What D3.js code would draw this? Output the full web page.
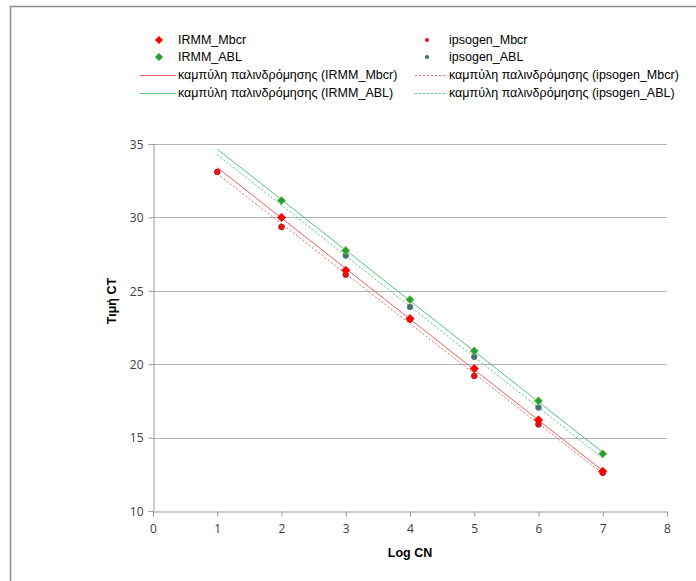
<!DOCTYPE html>
<html lang="en">
<head>
    <meta charset="UTF-8">
    <title>Καμπύλες παλινδρόμησης CT</title>
    <script src="https://d3js.org/d3.v7.min.js"></script>
</head>

<style>
    body {
        margin: 0;
        background: #fff;
    }

    svg {
        display: block;
        font-family: "Liberation Sans", Arial, sans-serif;
    }

    .tick text {
        font-family: "Open Sans", "Liberation Sans", sans-serif;
        font-size: 12px;
        fill: #404040;
    }
</style>

<body>
<div class="chart-container"></div>

<script>
  /** DATA */
  var logCN = [1, 2, 3, 4, 5, 6, 7];
  var irmmMbcr = [null, 30.0, 26.4, 23.1, 19.7, 16.2, 12.7];
  var ipsogenMbcr = [33.1, 29.35, 26.1, 23.05, 19.2, 15.9, 12.6];
  var irmmAbl = [null, 31.15, 27.75, 24.4, 20.9, 17.5, 13.9];
  var ipsogenAbl = [null, null, 27.4, 23.9, 20.5, 17.05, null];

  var xTicks = [0, 1, 2, 3, 4, 5, 6, 7, 8];
  var yTicks = [10, 15, 20, 25, 30, 35];

  var seriesNames = ['IRMM_Mbcr', 'IRMM_ABL', 'ipsogen_Mbcr', 'ipsogen_ABL'];
  var trendPrefix = 'καμπύλη παλινδρόμησης';

  /** series table built from the arrays above (ipsogen drawn first, IRMM on top) */
  var series = [
    {name: seriesNames[2], values: ipsogenMbcr, marker: 'dot', fill: '#e3161b', stroke: '#b01018', line: '#f06a6a', dash: '2,2'},
    {name: seriesNames[3], values: ipsogenAbl, marker: 'dot', fill: '#2f7a68', stroke: '#7a6aa0', line: '#4fc87e', dash: '2,2'},
    {name: seriesNames[0], values: irmmMbcr, marker: 'diamond', fill: '#ff0000', stroke: '#ff0000', line: '#f06060', dash: null},
    {name: seriesNames[1], values: irmmAbl, marker: 'diamond', fill: '#20a03a', stroke: '#a0b840', line: '#4fc87e', dash: null}
  ];

  var width = 696, height = 581;
  var plotLeft = 153, plotRight = 667, plotTop = 144, plotBottom = 511;

  var svg = d3.select('.chart-container')
    .append('svg')
    .attr('width', width)
    .attr('height', height);

  /** outer chart frame */
  svg.append('path')
    .attr('d', 'M10.5,' + height + 'V6.5H' + width)
    .attr('fill', 'none')
    .attr('stroke', '#8c8c8c')
    .attr('stroke-width', 1.5);

  var x = d3.scaleLinear().domain([0, 8]).range([plotLeft, plotRight]);
  var y = d3.scaleLinear().domain([10, 35]).range([plotBottom, plotTop]);

  /** horizontal gridlines */
  svg.append('g')
    .selectAll('line')
    .data(yTicks.slice(1))
    .enter().append('line')
    .attr('x1', plotLeft)
    .attr('x2', plotRight)
    .attr('y1', function (d) { return Math.round(y(d)) + 0.5; })
    .attr('y2', function (d) { return Math.round(y(d)) + 0.5; })
    .attr('stroke', '#b3b3b3');

  /** axes */
  var xAxis = svg.append('g')
    .attr('transform', 'translate(0,' + (plotBottom + 0.5) + ')')
    .call(d3.axisBottom(x).tickValues(xTicks).tickSize(5).tickPadding(8).tickFormat(d3.format('d')));

  var yAxis = svg.append('g')
    .attr('transform', 'translate(' + (plotLeft + 0.5) + ',0)')
    .call(d3.axisLeft(y).tickValues(yTicks).tickSize(5).tickPadding(5).tickFormat(d3.format('d')));

  [xAxis, yAxis].forEach(function (axis) {
    axis.select('.domain').attr('stroke', '#9a9a9a');
    axis.selectAll('.tick line').attr('stroke', '#9a9a9a');
  });
  yAxis.selectAll('.tick text').attr('dy', '0.35em');

  /** axis titles */
  svg.append('text')
    .attr('x', 410)
    .attr('y', 557)
    .attr('text-anchor', 'middle')
    .style('font-weight', 'bold')
    .style('font-size', '12.5px')
    .text('Log CN');

  svg.append('text')
    .attr('transform', 'translate(116,301) rotate(-90)')
    .attr('text-anchor', 'middle')
    .style('font-weight', 'bold')
    .style('font-size', '12.5px')
    .text('Τιμή CT');

  /** least squares fit for each series */
  function fit(values) {
    var pts = logCN.map(function (d, i) { return [d, values[i]]; })
      .filter(function (p) { return p[1] !== null; });
    var mx = d3.mean(pts, function (p) { return p[0]; });
    var my = d3.mean(pts, function (p) { return p[1]; });
    var sxy = d3.sum(pts, function (p) { return (p[0] - mx) * (p[1] - my); });
    var sxx = d3.sum(pts, function (p) { return (p[0] - mx) * (p[0] - mx); });
    var slope = sxy / sxx;
    return function (xv) { return my + slope * (xv - mx); };
  }

  var xExtent = d3.extent(logCN);

  /** trendlines, drawn over the whole Log CN range */
  svg.append('g')
    .selectAll('line')
    .data(series)
    .enter().append('line')
    .attr('x1', x(xExtent[0]))
    .attr('x2', x(xExtent[1]))
    .attr('y1', function (s) { return y(fit(s.values)(xExtent[0])); })
    .attr('y2', function (s) { return y(fit(s.values)(xExtent[1])); })
    .attr('stroke', function (s) { return s.line; })
    .attr('stroke-width', 1)
    .attr('stroke-dasharray', function (s) { return s.dash; });

  /** markers */
  var diamond = d3.symbol().type(d3.symbolSquare).size(34);
  var dot = d3.symbol().type(d3.symbolCircle).size(26);

  series.forEach(function (s) {
    var pts = logCN.map(function (d, i) { return {x: d, y: s.values[i]}; })
      .filter(function (p) { return p.y !== null; });
    svg.append('g')
      .selectAll('path')
      .data(pts)
      .enter().append('path')
      .attr('d', s.marker === 'diamond' ? diamond() : dot())
      .attr('transform', function (p) {
        return 'translate(' + x(p.x) + ',' + y(p.y) + ')' + (s.marker === 'diamond' ? ' rotate(45)' : '');
      })
      .attr('fill', s.fill)
      .attr('stroke', s.stroke)
      .attr('stroke-width', 0.8);
  });

  /** LEGEND */
  var legendRows = [40, 57, 75, 93];
  var legendItems = [
    {s: series[2], col: 0, row: 0, kind: 'marker', label: seriesNames[0]},
    {s: series[3], col: 0, row: 1, kind: 'marker', label: seriesNames[1]},
    {s: series[2], col: 0, row: 2, kind: 'line', label: trendPrefix + ' (' + seriesNames[0] + ')'},
    {s: series[3], col: 0, row: 3, kind: 'line', label: trendPrefix + ' (' + seriesNames[1] + ')'},
    {s: series[0], col: 1, row: 0, kind: 'marker', label: seriesNames[2]},
    {s: series[1], col: 1, row: 1, kind: 'marker', label: seriesNames[3]},
    {s: series[0], col: 1, row: 2, kind: 'line', label: trendPrefix + ' (' + seriesNames[2] + ')'},
    {s: series[1], col: 1, row: 3, kind: 'line', label: trendPrefix + ' (' + seriesNames[3] + ')'}
  ];
  var colText = [178, 449];
  var colMarker = [159, 427];
  var colLine = [[140, 176], [415, 445]];

  var legend = svg.append('g').classed('legend_group', true);

  var legendItem = legend.selectAll('g')
    .data(legendItems)
    .enter().append('g')
    .attr('transform', function (d) { return 'translate(0,' + legendRows[d.row] + ')'; });

  legendItem.each(function (d) {
    var g = d3.select(this);
    if (d.kind === 'marker') {
      var isDiamond = d.s.marker === 'diamond';
      g.append('path')
        .attr('d', isDiamond ? d3.symbol().type(d3.symbolSquare).size(22)() : d3.symbol().type(d3.symbolCircle).size(14)())
        .attr('transform', 'translate(' + colMarker[d.col] + ',0)' + (isDiamond ? ' rotate(45)' : ''))
        .attr('fill', d.s.fill)
        .attr('stroke', isDiamond ? d.s.fill : 'none');
    } else {
      g.append('line')
        .attr('x1', colLine[d.col][0])
        .attr('x2', colLine[d.col][1])
        .attr('y1', 0.5)
        .attr('y2', 0.5)
        .attr('stroke', d.s.line)
        .attr('stroke-dasharray', d.s.dash);
    }
    g.append('text')
      .attr('x', colText[d.col])
      .attr('dy', '0.35em')
      .style('font-size', '12.5px')
      .attr('fill', '#000')
      .text(d.label);
  });
</script>
</body>
</html>
